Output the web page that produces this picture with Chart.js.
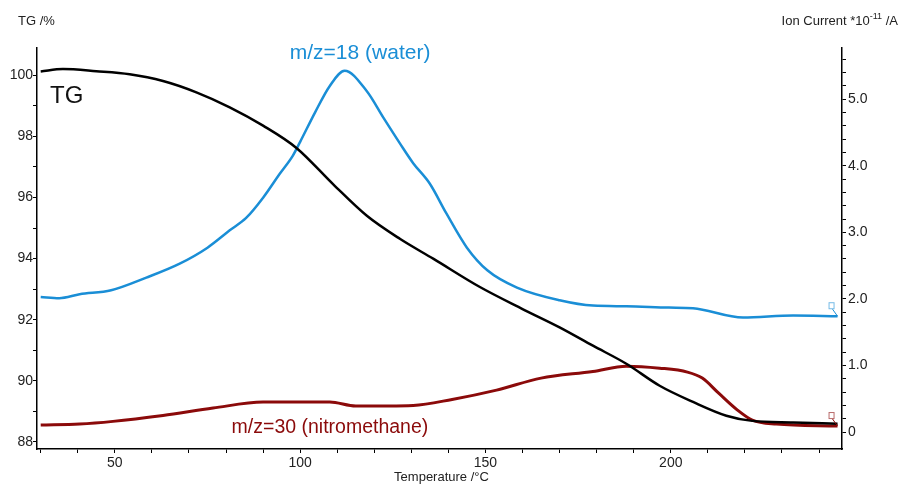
<!DOCTYPE html>
<html>
<head>
<meta charset="utf-8">
<title>TG / MS</title>
<script src="https://cdn.jsdelivr.net/npm/chart.js@4.4.1/dist/chart.umd.min.js"></script>
<style>
  body { margin: 0; background: #fff; }
  #wrap { width: 902px; height: 486px; }
</style>
</head>
<body>
<div id="wrap"><canvas id="chart1" width="902" height="486"></canvas></div>
<script>
// temperature in °C, TG in %, ion current in 1e-11 A
const tgTemp  = [30, 36, 45, 54, 63, 72, 81, 90, 99, 109, 118, 127, 136, 148.5, 160, 170, 179, 188, 197, 206, 215, 222, 233, 245];
const tgValue = [100.12, 100.2, 100.13, 100.03, 99.81, 99.44, 98.95, 98.35, 97.62, 96.42, 95.4, 94.64, 93.99, 93.07, 92.35, 91.75, 91.15, 90.56, 89.84, 89.31, 88.86, 88.69, 88.64, 88.6];

const waterTemp  = [30, 35, 40.5, 49, 58.5, 67.5, 75, 81, 85.5, 90, 94.5, 98, 100, 104, 108, 112, 118, 122.5, 127, 130.5, 135, 139.5, 145, 150.5, 158.5, 170, 179, 188, 199.5, 206, 219.5, 233, 245];
const waterValue = [2.03, 2.01, 2.07, 2.13, 2.32, 2.53, 2.77, 3.03, 3.22, 3.52, 3.88, 4.15, 4.36, 4.8, 5.2, 5.43, 5.12, 4.72, 4.33, 4.04, 3.73, 3.28, 2.77, 2.43, 2.17, 1.98, 1.9, 1.89, 1.87, 1.86, 1.72, 1.75, 1.74];

const nitroTemp  = [30, 40.5, 49.5, 63, 76.5, 90, 108, 115, 130.5, 141, 153, 165, 179, 188, 197, 204.5, 208.5, 213, 218, 222, 228.5, 245];
const nitroValue = [0.105, 0.12, 0.16, 0.25, 0.36, 0.45, 0.45, 0.39, 0.4, 0.49, 0.63, 0.81, 0.91, 0.99, 0.96, 0.9, 0.81, 0.58, 0.33, 0.18, 0.12, 0.09];

const xMajorTicks = [50, 100, 150, 200];
const tgTickLabels = [88, 90, 92, 94, 96, 98, 100];
const ionTickLabels = [0, 1, 2, 3, 4, 5];

const FONT = '"Liberation Sans", Arial, sans-serif';
const BLUE = '#1a8ed6';
const DARKRED = '#8b0a0a';

function toPoints(xs, ys) {
  return xs.map((x, i) => ({ x: x, y: ys[i] }));
}

function keepSteps(step, lo, hi) {
  return function (scale) {
    const t = [];
    for (let v = Math.ceil(lo / step) * step; v <= hi + 1e-9; v += step) {
      t.push({ value: Math.round(v * 100) / 100 });
    }
    scale.ticks = t;
  };
}

// little curve-end flags like the instrument software draws
function endFlag(ctx, px, py, color) {
  ctx.strokeStyle = color;
  ctx.lineWidth = 1;
  ctx.beginPath();
  ctx.moveTo(px, py);
  ctx.lineTo(px - 5, py - 7);
  ctx.stroke();
  ctx.globalAlpha = 0.6;
  ctx.strokeRect(px - 8.5, py - 13.5, 5, 6);
  ctx.globalAlpha = 1;
}

const textPlugin = {
  id: 'textPlugin',
  afterDraw(chart) {
    const { ctx, chartArea, scales } = chart;
    const x = scales.x, yl = scales.y, yr = scales.y1;
    ctx.save();
    ctx.textBaseline = 'alphabetic';

    // axis titles
    ctx.fillStyle = '#222';
    ctx.font = '13px ' + FONT;
    ctx.textAlign = 'left';
    ctx.fillText('TG /%', 18, 25);

    ctx.textAlign = 'center';
    ctx.textBaseline = 'middle';
    ctx.fillText('Temperature /°C', (chartArea.left + chartArea.right) / 2 + 2, 477);

    // ion current title with superscript
    ctx.textBaseline = 'alphabetic';
    ctx.textAlign = 'left';
    const p1 = 'Ion Current *10', sup = '-11', p2 = ' /A';
    ctx.font = '13px ' + FONT;
    const w1 = ctx.measureText(p1).width, w3 = ctx.measureText(p2).width;
    ctx.font = '9px ' + FONT;
    const w2 = ctx.measureText(sup).width;
    let sx = 898 - (w1 + w2 + w3);
    ctx.font = '13px ' + FONT;
    ctx.fillText(p1, sx, 25);
    ctx.font = '9px ' + FONT;
    ctx.fillText(sup, sx + w1, 19);
    ctx.font = '13px ' + FONT;
    ctx.fillText(p2, sx + w1 + w2, 25);

    // curve labels
    ctx.fillStyle = '#111';
    ctx.font = '24px ' + FONT;
    ctx.fillText('TG', x.getPixelForValue(32.5), yl.getPixelForValue(99.08));

    ctx.fillStyle = BLUE;
    ctx.font = '21px ' + FONT;
    ctx.fillText('m/z=18 (water)', x.getPixelForValue(97.2), yr.getPixelForValue(5.6));

    ctx.fillStyle = DARKRED;
    ctx.font = '19.5px ' + FONT;
    ctx.fillText('m/z=30 (nitromethane)', x.getPixelForValue(81.5), yr.getPixelForValue(-0.01));

    // end flags
    const wl = waterTemp.length - 1, nl = nitroTemp.length - 1;
    endFlag(ctx, x.getPixelForValue(waterTemp[wl]), yr.getPixelForValue(waterValue[wl]), BLUE);
    endFlag(ctx, x.getPixelForValue(nitroTemp[nl]), yr.getPixelForValue(nitroValue[nl]), DARKRED);

    ctx.restore();
  }
};

new Chart(document.getElementById('chart1'), {
  type: 'line',
  data: {
    datasets: [
      {
        label: 'TG',
        data: toPoints(tgTemp, tgValue),
        yAxisID: 'y',
        borderColor: '#000',
        borderWidth: 2.5,
        pointRadius: 0,
        cubicInterpolationMode: 'monotone'
      },
      {
        label: 'm/z=18',
        data: toPoints(waterTemp, waterValue),
        yAxisID: 'y1',
        borderColor: BLUE,
        borderWidth: 2.5,
        pointRadius: 0,
        cubicInterpolationMode: 'monotone'
      },
      {
        label: 'm/z=30',
        data: toPoints(nitroTemp, nitroValue),
        yAxisID: 'y1',
        borderColor: DARKRED,
        borderWidth: 3,
        pointRadius: 0,
        cubicInterpolationMode: 'monotone'
      }
    ]
  },
  options: {
    responsive: false,
    animation: false,
    layout: { padding: { top: 48, left: 0, right: 0, bottom: 0 } },
    plugins: {
      legend: { display: false },
      tooltip: { enabled: false }
    },
    scales: {
      x: {
        type: 'linear',
        min: 29,
        max: 246.2,
        afterBuildTicks: keepSteps(10, 30, 240),
        afterFit(scale) { scale.height = 37; },
        grid: { drawOnChartArea: false, drawTicks: true, tickLength: 4, tickColor: '#000', lineWidth: 1 },
        border: { display: true, color: '#000', width: 1.5 },
        ticks: {
          color: '#222',
          font: { family: FONT, size: 14 },
          padding: 2,
          maxRotation: 0,
          autoSkip: false,
          callback: v => xMajorTicks.includes(v) ? String(v) : ''
        }
      },
      y: {
        type: 'linear',
        position: 'left',
        min: 87.77,
        max: 100.89,
        afterBuildTicks: keepSteps(1, 88, 100),
        afterFit(scale) { scale.width = 37; },
        grid: { drawOnChartArea: false, drawTicks: true, tickLength: 4, tickColor: '#000', lineWidth: 1 },
        border: { display: true, color: '#000', width: 1.5 },
        ticks: {
          color: '#222',
          font: { family: FONT, size: 14 },
          padding: 0,
          autoSkip: false,
          callback: v => tgTickLabels.includes(v) ? String(v) : ''
        }
      },
      y1: {
        type: 'linear',
        position: 'right',
        min: -0.255,
        max: 5.77,
        afterBuildTicks: keepSteps(0.2, 0, 5.6),
        afterFit(scale) { scale.width = 60; },
        grid: { drawOnChartArea: false, drawTicks: true, tickLength: 4, tickColor: '#000', lineWidth: 1 },
        border: { display: true, color: '#000', width: 1.5 },
        ticks: {
          color: '#222',
          font: { family: FONT, size: 14 },
          padding: 2,
          autoSkip: false,
          callback: v => ionTickLabels.includes(v) ? (v === 0 ? '0' : v.toFixed(1)) : ''
        }
      }
    }
  },
  plugins: [textPlugin]
});
</script>
</body>
</html>
